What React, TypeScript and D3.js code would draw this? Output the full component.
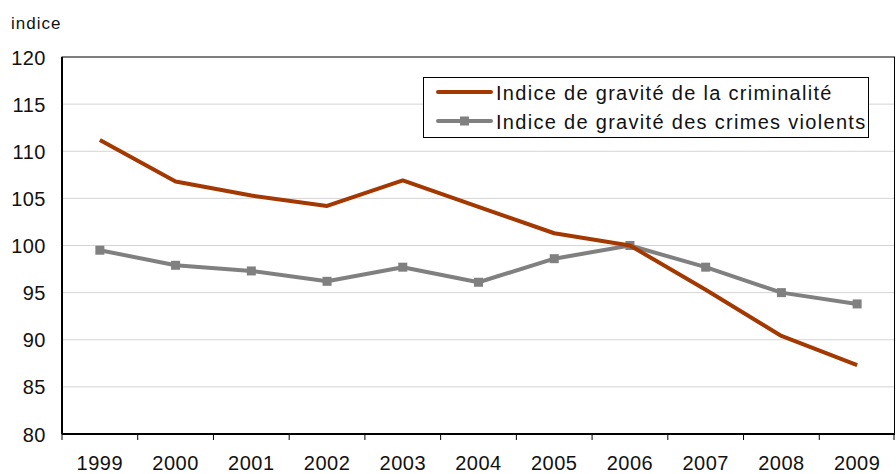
import React, { useEffect, useRef } from 'react';
import * as d3 from 'd3';

const years = ['1999', '2000', '2001', '2002', '2003', '2004', '2005', '2006', '2007', '2008', '2009'];
const crimeIndex = [111.2, 106.8, 105.3, 104.2, 106.9, 104.1, 101.3, 100.0, 95.3, 90.4, 87.3];
const violentIndex = [99.5, 97.9, 97.3, 96.2, 97.7, 96.1, 98.6, 100.0, 97.7, 95.0, 93.8];
const yTicks = [80, 85, 90, 95, 100, 105, 110, 115, 120];
const seriesNames = ['Indice de gravité de la criminalité', 'Indice de gravité des crimes violents'];

const W = 896, H = 474;
const font = '"Liberation Sans", Arial, sans-serif';

const App = () => {
    const ref = useRef(null);
    const margin = { top: 57, right: 1, bottom: 40, left: 62 };

    useEffect(() => {
        document.body.style.margin = '0';
        const svg = d3.select(ref.current);
        svg.selectAll('*').remove();

        const x = d3.scaleBand().domain(years).range([margin.left, W - margin.right]);
        const y = d3.scaleLinear().domain([80, 120]).range([H - margin.bottom, margin.top]);
        const cx = d => x(d) + x.bandwidth() / 2;

        // grid
        svg.append('g').selectAll('line').data(yTicks.slice(1, -1)).enter().append('line')
            .attr('x1', margin.left).attr('x2', W - margin.right)
            .attr('y1', d => y(d)).attr('y2', d => y(d))
            .attr('stroke', '#d4d4d4').attr('stroke-width', 1);

        // frame
        svg.append('rect')
            .attr('x', margin.left).attr('y', y(120))
            .attr('width', W - margin.right - margin.left - 0.5)
            .attr('height', y(80) - y(120))
            .attr('fill', 'none').attr('stroke', '#000').attr('stroke-width', 1);
        svg.append('line').attr('x1', margin.left).attr('x2', margin.left)
            .attr('y1', y(120)).attr('y2', y(80)).attr('stroke', '#000').attr('stroke-width', 2);
        svg.append('line').attr('x1', margin.left).attr('x2', W - margin.right)
            .attr('y1', y(80)).attr('y2', y(80)).attr('stroke', '#000').attr('stroke-width', 2);

        // x ticks at band boundaries
        const bounds = years.map(d => x(d)).concat([W - margin.right - 1]);
        svg.append('g').selectAll('line').data(bounds).enter().append('line')
            .attr('x1', d => d).attr('x2', d => d)
            .attr('y1', y(80)).attr('y2', y(80) + 6)
            .attr('stroke', '#000').attr('stroke-width', 1);

        svg.append('g').selectAll('text').data(years).enter().append('text')
            .attr('x', d => cx(d)).attr('y', y(80) + 36)
            .attr('text-anchor', 'middle')
            .attr('font-family', font).attr('font-size', 20).attr('letter-spacing', 0.5)
            .attr('fill', '#111')
            .text(d => d);

        svg.append('g').selectAll('text').data(yTicks).enter().append('text')
            .attr('x', 46).attr('y', d => y(d) + 7.5)
            .attr('text-anchor', 'end')
            .attr('font-family', font).attr('font-size', 20).attr('letter-spacing', 0.5)
            .attr('fill', '#111')
            .text(d => d);

        svg.append('text').attr('x', 11).attr('y', 29)
            .attr('font-family', font).attr('font-size', 17).attr('letter-spacing', 1)
            .attr('fill', '#111')
            .text('indice');

        const line = d3.line().x((d, i) => cx(years[i])).y(d => y(d));

        svg.append('path').datum(violentIndex).attr('d', line)
            .attr('fill', 'none').attr('stroke', '#808080').attr('stroke-width', 4)
            .attr('stroke-linejoin', 'round');
        svg.append('g').selectAll('rect').data(violentIndex).enter().append('rect')
            .attr('x', (d, i) => cx(years[i]) - 4.5).attr('y', d => y(d) - 4.5)
            .attr('width', 9).attr('height', 9).attr('fill', '#808080');

        svg.append('path').datum(crimeIndex).attr('d', line)
            .attr('fill', 'none').attr('stroke', '#a33800').attr('stroke-width', 4)
            .attr('stroke-linejoin', 'round');

        // legend
        const lg = svg.append('g');
        lg.append('rect').attr('x', 423.5).attr('y', 77.5).attr('width', 445).attr('height', 60)
            .attr('fill', '#fff').attr('stroke', '#000').attr('stroke-width', 1);
        const colors = ['#a33800', '#808080'];
        seriesNames.forEach((name, i) => {
            const ly = 92 + i * 29;
            lg.append('line').attr('x1', 438).attr('x2', 491).attr('y1', ly).attr('y2', ly)
                .attr('stroke', colors[i]).attr('stroke-width', 4).attr('stroke-linecap', 'round');
            if (i === 1) {
                lg.append('rect').attr('x', 460).attr('y', ly - 4.5).attr('width', 9).attr('height', 9)
                    .attr('fill', colors[i]);
            }
            lg.append('text').attr('x', 496).attr('y', ly + 7.5)
                .attr('font-family', font).attr('font-size', 20).attr('letter-spacing', 1.3)
                .attr('fill', '#111')
                .text(name);
        });
    }, []);

    return (
        <svg ref={ref} width={W} height={H} style={{ display: 'block', background: '#fff' }} />
    );
};

export default App;
